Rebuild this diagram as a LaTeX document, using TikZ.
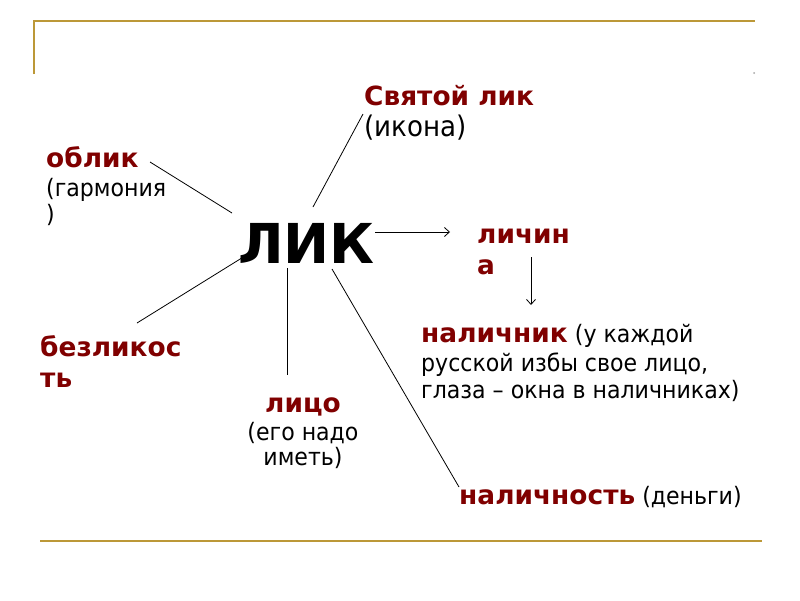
\documentclass[tikz,border=0pt]{standalone}
\usepackage{fontspec}
\setmainfont{DejaVu Sans}
\newfontfamily\regfont{DejaVu Sans}[FakeStretch=0.92]
\usetikzlibrary{arrows.meta}
\definecolor{termred}{RGB}{128,0,0}
\definecolor{gold}{RGB}{188,152,56}
\newcommand{\termfont}{\normalfont\fontsize{26.4}{28}\selectfont\bfseries\color{termred}}
\tikzset{
  txt/.style={inner sep=0pt, anchor=base west, font=\regfont\fontsize{24}{26}\selectfont},
  ctxt/.style={inner sep=0pt, anchor=base, font=\regfont\fontsize{24}{26}\selectfont},
  big/.style={font=\regfont\fontsize{28.4}{30}\selectfont},
  term/.style={font=\termfont, text=termred},
  link/.style={draw=black, line width=0.8pt},
  arr/.style={link, -{Straight Barb[length=5pt,width=9pt,line width=0.8pt]}},
  frame/.style={draw=gold, line width=2.4pt}
}
\begin{document}
\begin{tikzpicture}[x=1pt,y=-1pt]
\useasboundingbox (0,0) rectangle (800,600);
\fill[white] (0,0) rectangle (800,600);
% frame decoration
\draw[frame] (34,74) -- (34,21) -- (755,21);
\draw[frame] (40,541) -- (762,541);
\fill[gray!70] (754,73) circle (1pt);
% central word
\node[inner sep=0pt, anchor=base west, font=\fontsize{55}{60}\selectfont\bfseries] (lik) at (238,263) {ЛИК};
% Святой лик
\node[txt, term] (sv1) at (364,105) {Святой лик};
\node[txt, big] (sv2) at (364,136) {(икона)};
% облик
\node[txt, term] (ob1) at (46,167) {облик};
\node[txt] (ob2) at (46,196) {(гармония};
\node[txt] (ob3) at (46,222) {)};
% личина
\node[txt, term] (li1) at (477,243) {личин};
\node[txt, term] (li2) at (477,274) {а};
% безликость
\node[txt, term] (bz1) at (40,356) {безликос};
\node[txt, term] (bz2) at (40,387) {ть};
% лицо
\node[ctxt, term] (lc1) at (303,412) {лицо};
\node[ctxt] (lc2) at (303,440) {(его надо};
\node[ctxt] (lc3) at (303,465) {иметь)};
% наличник
\node[txt] (na1) at (421,342) {{\termfont наличник} (у каждой};
\node[txt] (na2) at (421,371) {русской избы свое лицо,};
\node[txt] (na3) at (421,398) {глаза – окна в наличниках)};
% наличность
\node[txt] (nn1) at (459,504) {{\termfont наличность} (деньги)};
% connector end points
\coordinate (cOb) at (150,162);
\coordinate (cObL) at (232,213);
\coordinate (cBzL) at (245,256);
\coordinate (cBz) at (137,323);
\coordinate (cSv) at (363,114);
\coordinate (cSvL) at (313,207);
\coordinate (cLcL) at (287,268);
\coordinate (cLc) at (287,375);
\coordinate (cNnL) at (332,269);
\coordinate (cNn) at (459,487);
\coordinate (cArL) at (375,232);
\coordinate (cArLi) at (450,232);
\coordinate (cLiTop) at (531,257);
\coordinate (cNaTop) at (531,305);
% connectors
\draw[link] (cOb) -- (cObL);
\draw[link] (cBzL) -- (cBz);
\draw[link] (cSv) -- (cSvL);
\draw[link] (cLcL) -- (cLc);
\draw[link] (cNnL) -- (cNn);
\draw[arr] (cArL) -- (cArLi);
\draw[arr] (cLiTop) -- (cNaTop);
\end{tikzpicture}
\end{document}
